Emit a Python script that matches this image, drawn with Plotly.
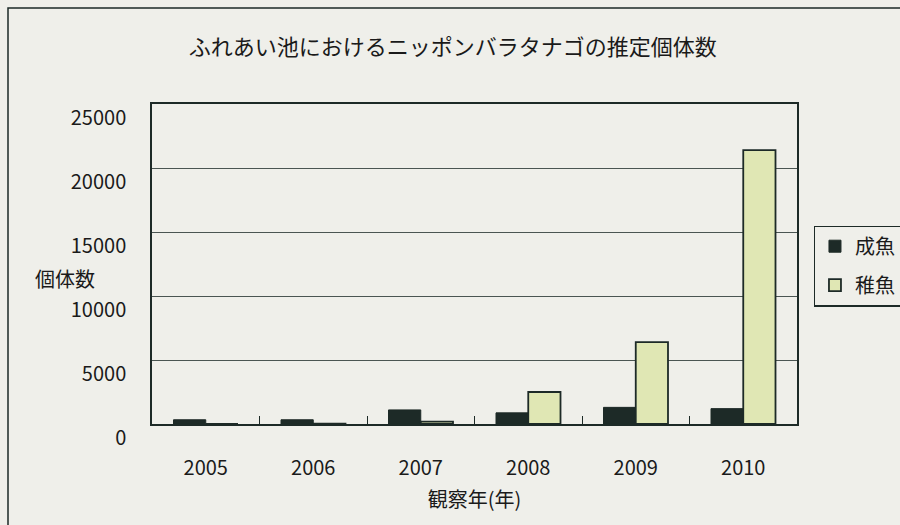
import plotly.graph_objects as go

years = ["2005", "2006", "2007", "2008", "2009", "2010"]
adult = [330, 330, 1100, 870, 1300, 1200]
juvenile = [0, 30, 180, 2500, 6400, 21400]
y_ticks = [0, 5000, 10000, 15000, 20000, 25000]

title_text = "ふれあい池におけるニッポンバラタナゴの推定個体数"
x_title = "観察年(年)"
y_title = "個体数"
adult_name = "成魚"
juvenile_name = "稚魚"

FONT = "Noto Sans CJK JP, Liberation Sans, sans-serif"
NUMFONT = "Liberation Sans Narrow, Noto Sans CJK JP, sans-serif"
INK = "#1d2a27"
TXT = "#1a1a1a"
BG = "#efefea"

fig = go.Figure()
fig.add_trace(go.Bar(
    x=years, y=adult, name=adult_name, legendgroup="a",
    marker=dict(color=INK, line=dict(color=INK, width=1)),
))
fig.add_trace(go.Bar(
    x=years, y=juvenile, name=juvenile_name, legendgroup="j",
    marker=dict(color="#e0e7b4", line=dict(color=INK, width=1.8)),
))

fig.update_layout(
    width=900, height=525,
    margin=dict(l=152, r=103, t=104, b=101, autoexpand=False),
    paper_bgcolor=BG, plot_bgcolor=BG,
    barmode="group", bargap=0.4, bargroupgap=0,
    font=dict(family=FONT, color=TXT),
    title=dict(text=title_text, x=0.503, xanchor="center", y=1 - 47 / 525, yanchor="middle",
               font=dict(size=22, family=FONT, color=TXT)),
    showlegend=True,
    legend=dict(x=1.026, xanchor="left", y=(424 - 266) / 320, yanchor="middle",
                bordercolor=INK, borderwidth=1.2, bgcolor=BG,
                font=dict(size=20, family=FONT, color=TXT),
                itemwidth=30, traceorder="grouped", tracegroupgap=10),
    xaxis=dict(
        showline=True, linecolor=INK, linewidth=1.5, mirror=True,
        ticks="inside", tickson="boundaries", ticklen=8, tickcolor=INK, tickwidth=1.2,
        tickfont=dict(size=20, family=NUMFONT, color=TXT),
        showgrid=False, ticklabelstandoff=25,
        title=dict(text=x_title, font=dict(size=20, family=FONT, color=TXT), standoff=13),
    ),
    yaxis=dict(
        range=[0, 25000], tickvals=y_ticks, ticktext=[str(v) for v in y_ticks],
        showline=True, linecolor=INK, linewidth=1.5, mirror=True,
        ticks="", showgrid=True, gridcolor="#4a5552", gridwidth=1,
        tickfont=dict(size=20, family=NUMFONT, color=TXT),
        ticklabelposition="outside bottom",
        ticklabelstandoff=20, zeroline=False,
    ),
    annotations=[dict(
        text=y_title, xref="paper", yref="paper",
        x=(65 - 152) / 645, y=(424 - 278) / 320, xanchor="center", yanchor="middle",
        showarrow=False, font=dict(size=20, family=FONT, color=TXT),
    )],
    shapes=[dict(
        type="rect", xref="paper", yref="paper",
        x0=(8 - 152) / 645, x1=(930 - 152) / 645,
        y0=(424 - 560) / 320, y1=(424 - 8) / 320,
        line=dict(color=INK, width=1.5), fillcolor="rgba(0,0,0,0)", layer="below",
    )],
)

fig.write_html(
    "out.html",
    config={"displayModeBar": False},
    post_script="document.body.style.margin='0';document.body.style.background='#efefea';",
)
